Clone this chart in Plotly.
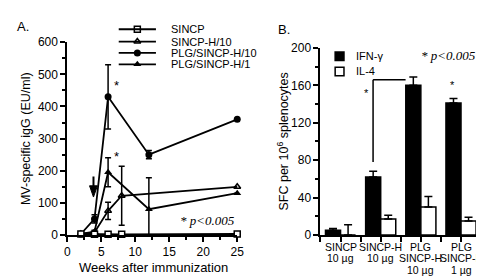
import plotly.graph_objects as go

# ---------------- Panel A data ----------------
weeks_sincp = [2, 4, 6, 8, 25]
sincp = [3, 2, 2, 2, 3]

weeks_h10 = [2, 4, 6, 8, 25]
sincp_h10 = [3, 8, 75, 122, 150]
sincp_h10_err = [0, 0, 27, 92, 0]

weeks_plg10 = [2, 4, 6, 12, 25]
plg_h10 = [3, 50, 430, 250, 360]
plg_h10_err = [0, 13, 100, 13, 0]

weeks_plg1 = [2, 4, 6, 12, 25]
plg_h1 = [3, 10, 195, 80, 130]
plg_h1_err_plus = [0, 5, 45, 98, 0]
plg_h1_err_minus = [0, 5, 45, 80, 0]

legend_a = ["SINCP", "SINCP-H/10", "PLG/SINCP-H/10", "PLG/SINCP-H/1"]

# ---------------- Panel B data ----------------
groups = [["SINCP", "10 µg"], ["SINCP-H", "10 µg"], ["PLG", "SINCP-H", "10 µg"], ["PLG", "SINCP-H", "1 µg"]]
group_pos = [0, 1, 2, 3]
ifn = [5, 62, 160, 141]
ifn_err = [2, 6, 9, 5]
il4 = [0, 17, 30, 15]
il4_err = [11, 4, 11, 4]

FONT = "Liberation Sans, Arial, sans-serif"
SERIF = "Liberation Serif, Times New Roman, serif"
LW = 1.8

SYM_SQ = dict(symbol="square", size=6, color="white", line=dict(width=1.5, color="black"))
SYM_OT = dict(symbol="triangle-up-open", size=6, color="black", line=dict(width=1.5, color="black"))
SYM_CI = dict(symbol="circle", size=7, color="black")
SYM_FT = dict(symbol="triangle-up", size=7, color="black")

fig = go.Figure()

def err(arr, minus=None):
    d = dict(type="data", array=arr, visible=True, color="black", thickness=1.5, width=3)
    if minus is not None:
        d["symmetric"] = False
        d["arrayminus"] = minus
    return d

fig.add_trace(go.Scatter(x=weeks_plg10, y=plg_h10, mode="lines+markers", xaxis="x", yaxis="y",
                         line=dict(color="black", width=LW), cliponaxis=False,
                         marker=SYM_CI, error_y=err(plg_h10_err), showlegend=False))
fig.add_trace(go.Scatter(x=weeks_plg1, y=plg_h1, mode="lines+markers", xaxis="x", yaxis="y",
                         line=dict(color="black", width=LW), cliponaxis=False,
                         marker=SYM_FT, error_y=err(plg_h1_err_plus, plg_h1_err_minus), showlegend=False))
fig.add_trace(go.Scatter(x=weeks_h10, y=sincp_h10, mode="lines+markers", xaxis="x", yaxis="y",
                         line=dict(color="black", width=LW), cliponaxis=False,
                         marker=SYM_OT, error_y=err(sincp_h10_err), showlegend=False))
fig.add_trace(go.Scatter(x=weeks_sincp, y=sincp, mode="lines+markers", xaxis="x", yaxis="y",
                         line=dict(color="black", width=LW), cliponaxis=False,
                         marker=SYM_SQ, showlegend=False))

# ---------------- Panel B bars ----------------
fig.add_trace(go.Bar(x=group_pos, y=ifn, xaxis="x2", yaxis="y2", name="IFN-γ",
                     marker=dict(color="black", line=dict(color="black", width=1.5)),
                     error_y=dict(type="data", symmetric=False, array=ifn_err, arrayminus=[0]*4,
                                  color="black", thickness=1.5, width=4),
                     showlegend=False))
fig.add_trace(go.Bar(x=group_pos, y=il4, xaxis="x2", yaxis="y2", name="IL-4",
                     marker=dict(color="white", line=dict(color="black", width=1.5)),
                     error_y=dict(type="data", symmetric=False, array=il4_err, arrayminus=[0]*4,
                                  color="black", thickness=1.5, width=4),
                     showlegend=False))

# ---------------- overlay (pixel) axis for legends and labels ----------------
leg_y = [15, 28, 40, 52]
leg_syms = [SYM_SQ, SYM_OT, SYM_CI, SYM_FT]
for yy, sym in zip(leg_y, leg_syms):
    fig.add_shape(type="line", xref="x3", yref="y3", x0=110, x1=148, y0=yy, y1=yy,
                  line=dict(color="black", width=LW))
    fig.add_trace(go.Scatter(x=[129], y=[yy], xaxis="x3", yaxis="y3", mode="markers",
                             marker=sym, showlegend=False, hoverinfo="skip", cliponaxis=False))

annotations = []
def ann(text, x, y, size=11, family=FONT, **kw):
    d = dict(text=text, x=x, y=y, xref="x3", yref="y3", showarrow=False,
             font=dict(family=family, size=size, color="black"))
    d.update(kw)
    annotations.append(d)

for yy, lab in zip(leg_y, legend_a):
    ann(lab, 161, yy, size=11, xanchor="left", yanchor="middle")

ann("A.", 4, 12, size=13, xanchor="left", yanchor="middle")
ann("B.", 271, 15, size=13, xanchor="left", yanchor="middle")
ann("MV-specific igG (EU/ml)", 16, 130, size=12.5, textangle=-90, xanchor="center", yanchor="middle")
ann("Weeks after immunization", 146, 266, size=13, xanchor="center", yanchor="middle")
ann("SFC per 10<sup>6</sup> splenocytes", 278, 133, size=12.5, textangle=-90, xanchor="center", yanchor="middle")

# panel B category labels, one text per line
row_y = [244, 256.5, 269]
for gp, lines in zip(group_pos, groups):
    for k, line in enumerate(lines):
        annotations.append(dict(text=line, x=gp, xref="x2", y=row_y[k], yref="y3", showarrow=False,
                                xanchor="center", yanchor="middle",
                                font=dict(family=FONT, size=10.5, color="black")))

# legend B
fig.add_shape(type="rect", xref="x3", yref="y3", x0=331, x1=340, y0=39, y1=48,
              fillcolor="black", line=dict(color="black", width=1.5))
fig.add_shape(type="rect", xref="x3", yref="y3", x0=331, x1=340, y0=55, y1=64,
              fillcolor="white", line=dict(color="black", width=1.5))
ann("IFN-γ", 350, 43, size=11, xanchor="left", yanchor="middle")
ann("IL-4", 350, 59, size=11, xanchor="left", yanchor="middle")

# p-value notes
ann("<i>* p&lt;0.005</i>", 201, 217, size=13, family=SERIF, xanchor="center", yanchor="middle")
ann("<i>* p&lt;0.005</i>", 447, 43, size=13, family=SERIF, xanchor="center", yanchor="middle")

# asterisks panel A
annotations.append(dict(text="*", x=7.3, y=465, xref="x", yref="y", showarrow=False,
                        font=dict(family=FONT, size=13, color="black")))
annotations.append(dict(text="*", x=7.3, y=245, xref="x", yref="y", showarrow=False,
                        font=dict(family=FONT, size=13, color="black")))
# arrow panel A (shaft + head drawn as shapes)
fig.add_shape(type="line", xref="x", yref="y", x0=3.85, x1=3.85, y0=182, y1=145,
              line=dict(color="black", width=2))
fig.add_shape(type="path", xref="x", yref="y", path="M 3.27 153 L 4.43 153 L 3.85 118 Z",
              fillcolor="black", line=dict(color="black", width=1))
# asterisks panel B
annotations.append(dict(text="*", x=0.65, y=152, xref="x2", yref="y2", showarrow=False,
                        font=dict(family=FONT, size=11, color="black")))
annotations.append(dict(text="*", x=2.78, y=160, xref="x2", yref="y2", showarrow=False,
                        font=dict(family=FONT, size=11, color="black")))

# significance bracket panel B
fig.add_shape(type="line", xref="x2", yref="y2", x0=0.81, x1=0.81, y0=78, y1=166,
              line=dict(color="black", width=1.5))
fig.add_shape(type="line", xref="x2", yref="y2", x0=0.81, x1=1.62, y0=166, y1=166,
              line=dict(color="black", width=1.5))

axis_common = dict(showline=True, linecolor="black", linewidth=2, ticks="outside", ticklen=5,
                   tickwidth=1.5, tickcolor="black", showgrid=False, zeroline=False,
                   tickfont=dict(family=FONT, size=12, color="black"))

fig.update_layout(
    width=484, height=276, margin=dict(l=0, r=0, t=0, b=0),
    paper_bgcolor="white", plot_bgcolor="rgba(0,0,0,0)",
    barmode="group", bargap=0.25, bargroupgap=0,
    annotations=annotations,
    xaxis=dict(domain=[57.5/484, 231/484], range=[0, 25], anchor="y", tickvals=[0, 5, 10, 15, 20, 25],
               minor=dict(dtick=2.5, ticks="outside", ticklen=3, tickwidth=1.5, tickcolor="black"),
               **axis_common),
    yaxis=dict(domain=[44.3/276, 247.3/276], range=[0, 600], anchor="x", tickvals=[0, 100, 200, 300, 400, 500, 600],
               minor=dict(dtick=50, ticks="outside", ticklen=3, tickwidth=1.5, tickcolor="black"),
               **axis_common),
    xaxis2=dict(domain=[316/484, 480/484], range=[-0.5, 3.5], anchor="y2",
                tickvals=group_pos, showticklabels=False,
                minor=dict(dtick=0.5, tick0=0.5, ticks="outside", ticklen=5, tickwidth=1.5, tickcolor="black"),
                **axis_common),
    yaxis2=dict(domain=[44.3/276, (276-34.7)/276], range=[0, 200], anchor="x2", tickvals=[0, 40, 80, 120, 160, 200],
                minor=dict(dtick=20, ticks="outside", ticklen=3, tickwidth=1.5, tickcolor="black"),
                **axis_common),
    xaxis3=dict(domain=[0, 1], range=[0, 484], visible=False, anchor="y3", fixedrange=True),
    yaxis3=dict(domain=[0, 1], range=[276, 0], visible=False, anchor="x3", fixedrange=True),
)

fig.write_html("out.html")
